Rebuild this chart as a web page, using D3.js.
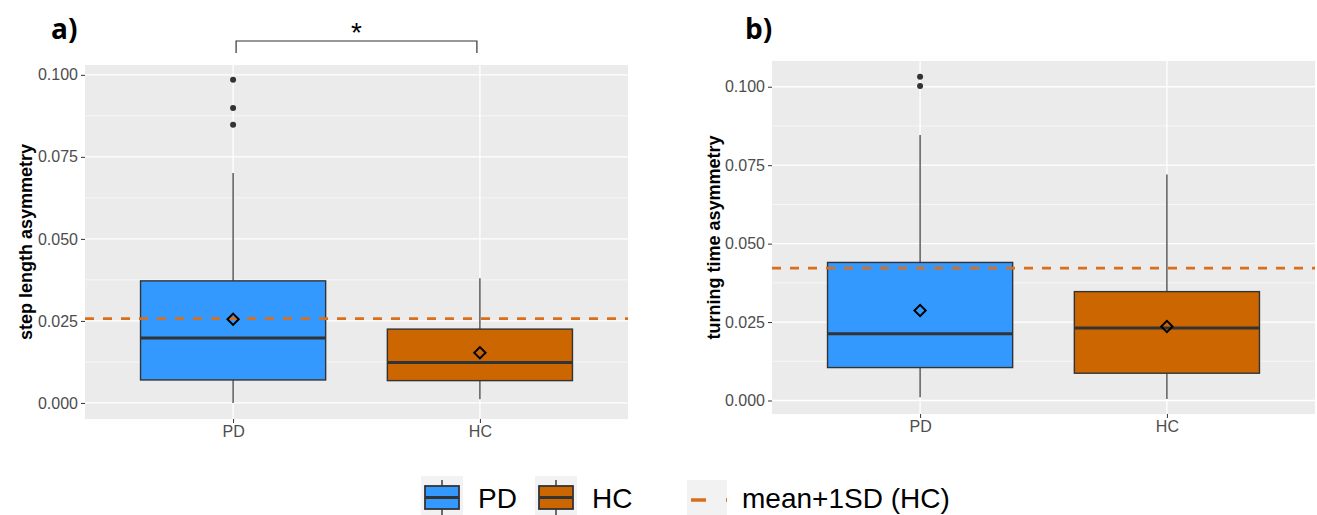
<!DOCTYPE html>
<html>
<head>
<meta charset="utf-8">
<script src="https://cdn.jsdelivr.net/npm/d3@7"></script>
<style>
  body { margin: 0; background: #fff; }
  svg { display: block; font-family: "Liberation Sans", Arial, sans-serif; }
</style>
</head>
<body>
<div id="container"></div>
<script>
const width = 1317;
const height = 515;

const groups = ["PD", "HC"];
const groupColors = ["#3399ff", "#cc6600"];

// panel a: step length asymmetry
const stepLow = [0.0000, 0.0011];
const stepQ1 = [0.0070, 0.0068];
const stepMedian = [0.0198, 0.0123];
const stepQ3 = [0.0372, 0.0225];
const stepHigh = [0.0701, 0.0380];
const stepMean = [0.0255, 0.0153];
const stepOutliers = [[0.0848, 0.0899, 0.0985], []];
const stepCutoff = 0.0257;

// panel b: turning time asymmetry
const turnLow = [0.0010, 0.0005];
const turnQ1 = [0.0105, 0.0087];
const turnMedian = [0.0213, 0.0231];
const turnQ3 = [0.0440, 0.0347];
const turnHigh = [0.0846, 0.0720];
const turnMean = [0.0287, 0.0236];
const turnOutliers = [[0.1002, 0.1032], []];
const turnCutoff = 0.0422;

const yTicks = [0, 0.025, 0.05, 0.075, 0.1];
const yMinor = [0.0125, 0.0375, 0.0625, 0.0875];

const svg = d3.select("#container")
    .append('svg')
    .attr('width', width)
    .attr('height', height)
    .attr('viewBox', [0, 0, width, height]);


function drawPanel(p) {
    // ggplot-style discrete axis: 0.6 units of padding either side
    const xc = d3.scaleLinear().domain([0.4, 2.6]).range([p.left, p.right]);
    const cx = g => xc(groups.indexOf(g) + 1);
    const boxW = xc(1.375) - xc(0.625);

    const y = d3.scaleLinear().domain(p.domain).range([p.bottom, p.top]);

    const g = svg.append('g');

    g.append('rect')
        .attr('x', p.left).attr('y', p.top)
        .attr('width', p.right - p.left).attr('height', p.bottom - p.top)
        .attr('fill', '#ebebeb');

    g.selectAll('.minor').data(yMinor).join('line')
        .attr('x1', p.left).attr('x2', p.right)
        .attr('y1', d => y(d)).attr('y2', d => y(d))
        .attr('stroke', '#fff').attr('stroke-width', 0.6);
    g.selectAll('.major').data(yTicks).join('line')
        .attr('x1', p.left).attr('x2', p.right)
        .attr('y1', d => y(d)).attr('y2', d => y(d))
        .attr('stroke', '#fff').attr('stroke-width', 1.3);
    g.selectAll('.vgrid').data(groups).join('line')
        .attr('x1', cx).attr('x2', cx)
        .attr('y1', p.top).attr('y2', p.bottom)
        .attr('stroke', '#fff').attr('stroke-width', 1.3);

    // y axis
    const ya = svg.append('g')
        .attr('transform', `translate(${p.left},0)`)
        .style('font-family', '"Liberation Sans", Arial, sans-serif')
        .call(d3.axisLeft(y).tickValues(yTicks).tickFormat(d3.format('.3f')).tickSize(4).tickPadding(3));
    ya.select('.domain').remove();
    ya.selectAll('.tick line').attr('stroke', '#333');
    ya.selectAll('.tick text').attr('fill', '#4d4d4d').style('font-size', '16px');

    // x axis
    const xa = svg.append('g')
        .attr('transform', `translate(0,${p.bottom})`)
        .style('font-family', '"Liberation Sans", Arial, sans-serif')
        .call(d3.axisBottom(xc).tickValues([1, 2]).tickFormat(d => groups[d - 1]).tickSize(4).tickPadding(3));
    xa.select('.domain').remove();
    xa.selectAll('.tick line').attr('stroke', '#333');
    xa.selectAll('.tick text').attr('fill', '#4d4d4d').style('font-size', '16px');

    svg.append('text')
        .attr('transform', `translate(${p.titleX},${(p.top + p.bottom) / 2}) rotate(-90)`)
        .attr('text-anchor', 'middle')
        .style('font-size', '18px').style('font-weight', 'bold')
        .text(p.title);

    // whiskers
    g.selectAll('.whi').data(groups).join('line')
        .attr('x1', cx).attr('x2', cx)
        .attr('y1', (d, i) => y(p.q3[i])).attr('y2', (d, i) => y(p.high[i]))
        .attr('stroke', '#333').attr('stroke-width', 1.2);
    g.selectAll('.wlo').data(groups).join('line')
        .attr('x1', cx).attr('x2', cx)
        .attr('y1', (d, i) => y(p.q1[i])).attr('y2', (d, i) => y(p.low[i]))
        .attr('stroke', '#333').attr('stroke-width', 1.2);

    // boxes
    g.selectAll('.box').data(groups).join('rect')
        .attr('x', d => cx(d) - boxW / 2)
        .attr('y', (d, i) => y(p.q3[i]))
        .attr('width', boxW)
        .attr('height', (d, i) => y(p.q1[i]) - y(p.q3[i]))
        .attr('fill', (d, i) => groupColors[i])
        .attr('stroke', '#333').attr('stroke-width', 1.4);
    g.selectAll('.med').data(groups).join('line')
        .attr('x1', d => cx(d) - boxW / 2).attr('x2', d => cx(d) + boxW / 2)
        .attr('y1', (d, i) => y(p.median[i])).attr('y2', (d, i) => y(p.median[i]))
        .attr('stroke', '#333').attr('stroke-width', 3);

    // outliers
    groups.forEach((grp, i) => {
        g.selectAll(null).data(p.outliers[i]).join('circle')
            .attr('cx', cx(grp)).attr('cy', d => y(d)).attr('r', 3)
            .attr('fill', '#333');
    });

    // cutoff line
    g.append('line')
        .attr('x1', p.left).attr('x2', p.right)
        .attr('y1', y(p.cutoff)).attr('y2', y(p.cutoff))
        .attr('stroke', '#d86f1c').attr('stroke-width', 2.8)
        .attr('stroke-dasharray', '9,9');

    // means
    g.selectAll('.mean').data(groups).join('path')
        .attr('d', d3.symbol(d3.symbolSquare, 64))
        .attr('transform', (d, i) => `translate(${cx(d)},${y(p.mean[i])}) rotate(45)`)
        .attr('fill', 'none').attr('stroke', '#000').attr('stroke-width', 2);

    svg.append('text')
        .attr('x', p.tagX).attr('y', 39)
        .style('font-family', '"Open Sans", sans-serif')
        .style('font-size', '28px').style('font-weight', 'bold')
        .text(p.tag);

    return cx;
}

const cxA = drawPanel({
    left: 85, right: 628, top: 65, bottom: 419, domain: [-0.0049, 0.1030],
    low: stepLow, q1: stepQ1, median: stepMedian, q3: stepQ3, high: stepHigh,
    mean: stepMean, outliers: stepOutliers, cutoff: stepCutoff,
    title: "step length asymmetry", titleX: 32, tag: "a)", tagX: 51
});

drawPanel({
    left: 772, right: 1315, top: 61, bottom: 414, domain: [-0.0043, 0.1082],
    low: turnLow, q1: turnQ1, median: turnMedian, q3: turnQ3, high: turnHigh,
    mean: turnMean, outliers: turnOutliers, cutoff: turnCutoff,
    title: "turning time asymmetry", titleX: 720, tag: "b)", tagX: 745
});

// significance bracket
const bx1 = cxA("PD") + 3, bx2 = cxA("HC") - 3;
svg.append('path')
    .attr('d', `M${bx1},53 V41 H${bx2} V53`)
    .attr('fill', 'none').attr('stroke', '#333').attr('stroke-width', 1.2);
svg.append('text')
    .attr('x', (bx1 + bx2) / 2).attr('y', 42)
    .attr('text-anchor', 'middle')
    .style('font-size', '28px')
    .text('*');

// legend
const legend = svg.append('g');
const keyX = [421, 535];
groups.forEach((grp, i) => {
    const k = legend.append('g').attr('transform', `translate(${keyX[i]},476)`);
    k.append('rect').attr('width', 42).attr('height', 39).attr('fill', '#f2f2f2');
    k.append('line').attr('x1', 21).attr('x2', 21).attr('y1', 4).attr('y2', 39)
        .attr('stroke', '#333').attr('stroke-width', 1.4);
    k.append('rect').attr('x', 4).attr('y', 10).attr('width', 34).attr('height', 23)
        .attr('fill', groupColors[i]).attr('stroke', '#333').attr('stroke-width', 1.8);
    k.append('line').attr('x1', 4).attr('x2', 38).attr('y1', 21.5).attr('y2', 21.5)
        .attr('stroke', '#333').attr('stroke-width', 3);
    legend.append('text')
        .attr('x', keyX[i] + 57).attr('y', 508)
        .style('font-size', '28px')
        .text(grp);
});
const dk = legend.append('g').attr('transform', 'translate(687,480)');
dk.append('rect').attr('width', 40).attr('height', 35).attr('fill', '#f2f2f2');
dk.append('line').attr('x1', 4).attr('x2', 40).attr('y1', 20).attr('y2', 20)
    .attr('stroke', '#d86f1c').attr('stroke-width', 3.5).attr('stroke-dasharray', '15,20');
legend.append('text')
    .attr('x', 742).attr('y', 508)
    .style('font-size', '28px')
    .text('mean+1SD (HC)');
</script>
</body>
</html>
